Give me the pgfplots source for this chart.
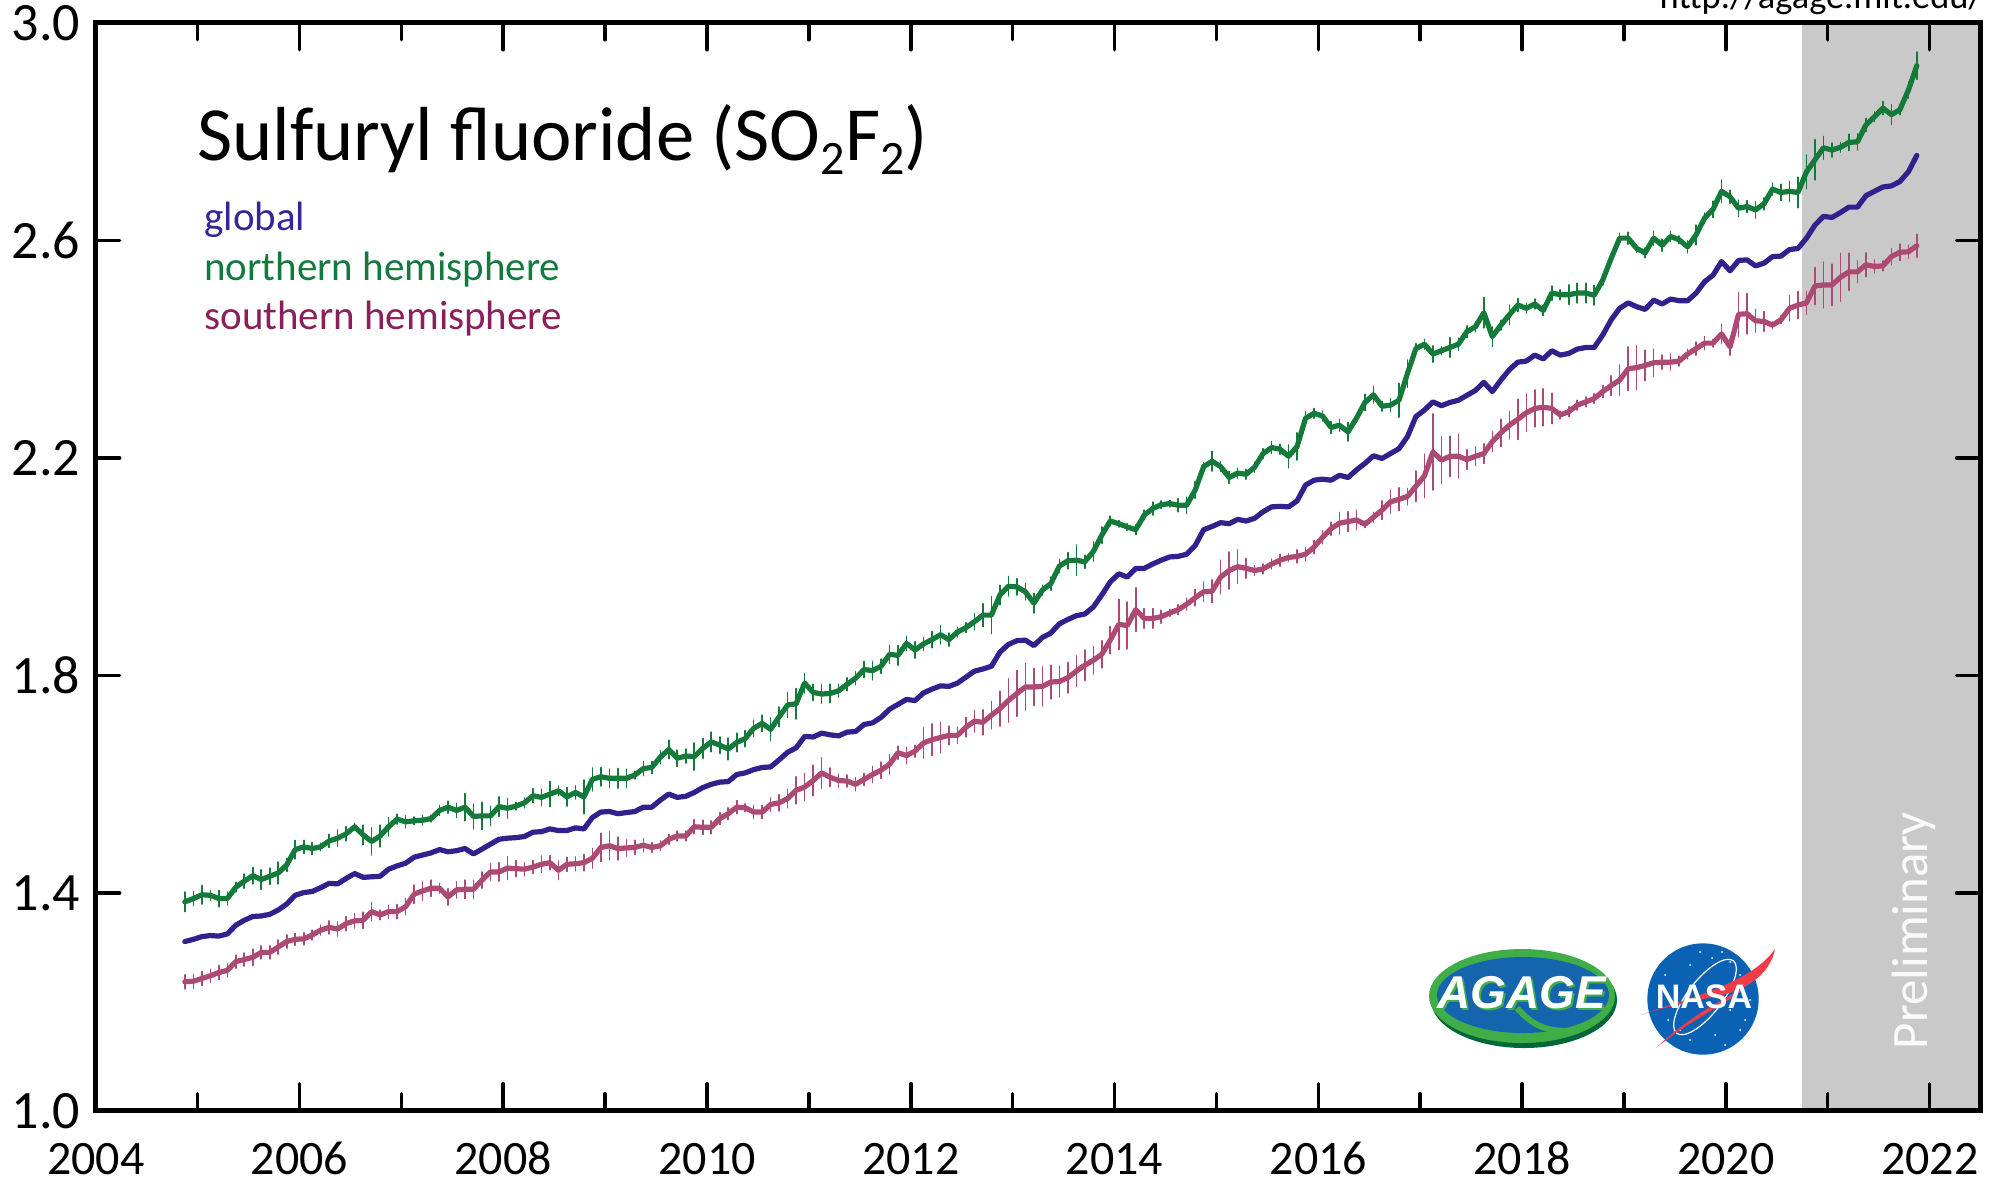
\documentclass[border=0pt]{standalone}
\usepackage{fontspec}
\setmainfont{Carlito}
\newfontfamily\logofont{Liberation Sans}
\usepackage{pgfplots}
\usepackage{pgfplotstable}
\pgfplotsset{compat=1.18}
\definecolor{cblue}{HTML}{31218C}
\definecolor{cgreen}{HTML}{137A3A}
\definecolor{cred}{HTML}{AD4A74}
\definecolor{lblue}{HTML}{33269A}
\definecolor{lgreen}{HTML}{117A3C}
\definecolor{lred}{HTML}{8C1F5A}
\definecolor{gshade}{HTML}{C9C9C9}
\definecolor{agblue}{HTML}{1464AE}
\definecolor{aggreen}{HTML}{3FAE49}
\definecolor{agdark}{HTML}{006838}
\definecolor{nasablue}{HTML}{0B62B4}
\definecolor{nasared}{HTML}{EE3D48}
\pgfplotstableread{
t g eg b r er
2004.875 1.384 .018 1.311 1.237 .013
2004.958 1.390 .013 1.315 1.238 .013
2005.042 1.397 .017 1.320 1.243 .013
2005.125 1.396 .009 1.322 1.248 .012
2005.208 1.390 .015 1.321 1.254 .013
2005.292 1.390 .012 1.325 1.258 .012
2005.375 1.411 .009 1.341 1.274 .012
2005.458 1.422 .013 1.350 1.278 .012
2005.542 1.432 .015 1.357 1.282 .015
2005.625 1.425 .018 1.358 1.291 .012
2005.708 1.431 .015 1.361 1.291 .012
2005.792 1.437 .020 1.369 1.301 .013
2005.875 1.452 .012 1.380 1.311 .012
2005.958 1.480 .017 1.396 1.315 .011
2006.042 1.485 .012 1.401 1.316 .011
2006.125 1.482 .011 1.403 1.323 .009
2006.208 1.485 .007 1.410 1.332 .009
2006.292 1.496 .012 1.418 1.337 .012
2006.375 1.501 .015 1.417 1.334 .013
2006.458 1.509 .013 1.427 1.344 .013
2006.542 1.522 .006 1.436 1.349 .013
2006.625 1.507 .018 1.429 1.350 .015
2006.708 1.495 .025 1.430 1.366 .017
2006.792 1.505 .020 1.431 1.360 .009
2006.875 1.522 .017 1.444 1.366 .012
2006.958 1.536 .009 1.450 1.366 .013
2007.042 1.531 .011 1.455 1.375 .015
2007.125 1.533 .007 1.466 1.398 .017
2007.208 1.534 .009 1.470 1.404 .017
2007.292 1.537 .006 1.474 1.409 .015
2007.375 1.552 .009 1.480 1.409 .009
2007.458 1.558 .011 1.476 1.393 .015
2007.542 1.552 .013 1.478 1.406 .015
2007.625 1.558 .025 1.482 1.407 .017
2007.708 1.541 .023 1.472 1.407 .017
2007.792 1.542 .025 1.481 1.424 .015
2007.875 1.542 .018 1.490 1.439 .015
2007.958 1.559 .018 1.499 1.439 .017
2008.042 1.556 .018 1.501 1.446 .021
2008.125 1.560 .007 1.502 1.445 .015
2008.208 1.566 .009 1.504 1.444 .012
2008.292 1.579 .013 1.512 1.448 .012
2008.375 1.576 .015 1.513 1.453 .015
2008.458 1.582 .023 1.518 1.456 .013
2008.542 1.588 .009 1.515 1.442 .017
2008.625 1.577 .017 1.515 1.453 .013
2008.708 1.585 .012 1.520 1.454 .013
2008.792 1.577 .031 1.518 1.456 .015
2008.875 1.609 .021 1.539 1.464 .018
2008.958 1.614 .017 1.549 1.484 .026
2009.042 1.611 .017 1.550 1.487 .026
2009.125 1.611 .018 1.546 1.482 .021
2009.208 1.611 .017 1.548 1.483 .015
2009.292 1.617 .007 1.550 1.484 .013
2009.375 1.629 .013 1.558 1.488 .012
2009.458 1.631 .011 1.558 1.484 .009
2009.542 1.650 .012 1.571 1.487 .009
2009.625 1.664 .017 1.582 1.499 .009
2009.708 1.648 .015 1.576 1.505 .009
2009.792 1.652 .013 1.578 1.505 .009
2009.875 1.651 .025 1.585 1.522 .013
2009.958 1.666 .018 1.594 1.521 .013
2010.042 1.678 .018 1.600 1.521 .012
2010.125 1.672 .015 1.604 1.537 .011
2010.208 1.665 .020 1.605 1.546 .011
2010.292 1.677 .017 1.618 1.558 .012
2010.375 1.684 .015 1.621 1.557 .007
2010.458 1.703 .015 1.627 1.549 .012
2010.542 1.712 .015 1.631 1.549 .012
2010.625 1.701 .021 1.632 1.563 .012
2010.708 1.724 .018 1.645 1.566 .015
2010.792 1.746 .023 1.659 1.574 .017
2010.875 1.748 .028 1.667 1.589 .025
2010.958 1.786 .018 1.688 1.595 .025
2011.042 1.769 .015 1.687 1.607 .028
2011.125 1.766 .017 1.694 1.621 .028
2011.208 1.767 .017 1.691 1.613 .017
2011.292 1.772 .012 1.689 1.607 .012
2011.375 1.784 .012 1.696 1.606 .011
2011.458 1.795 .012 1.697 1.600 .012
2011.542 1.811 .015 1.710 1.609 .011
2011.625 1.809 .017 1.713 1.618 .015
2011.708 1.817 .013 1.723 1.626 .015
2011.792 1.839 .017 1.738 1.637 .018
2011.875 1.837 .018 1.747 1.658 .012
2011.958 1.859 .013 1.756 1.653 .015
2012.042 1.847 .015 1.754 1.661 .011
2012.125 1.858 .012 1.768 1.676 .028
2012.208 1.866 .015 1.775 1.682 .029
2012.292 1.875 .017 1.781 1.686 .028
2012.375 1.866 .012 1.780 1.690 .017
2012.458 1.880 .009 1.786 1.690 .015
2012.542 1.888 .009 1.797 1.705 .018
2012.625 1.899 .015 1.808 1.716 .020
2012.708 1.911 .021 1.812 1.714 .023
2012.792 1.911 .034 1.817 1.727 .025
2012.875 1.948 .018 1.843 1.739 .032
2012.958 1.964 .018 1.857 1.754 .040
2013.042 1.963 .015 1.864 1.767 .042
2013.125 1.954 .015 1.865 1.779 .043
2013.208 1.933 .018 1.855 1.779 .034
2013.292 1.957 .009 1.870 1.780 .036
2013.375 1.969 .012 1.878 1.788 .031
2013.458 2.001 .012 1.895 1.789 .028
2013.542 2.011 .015 1.903 1.796 .028
2013.625 2.012 .028 1.910 1.808 .028
2013.708 2.009 .012 1.913 1.819 .028
2013.792 2.028 .018 1.926 1.828 .025
2013.875 2.058 .015 1.948 1.839 .025
2013.958 2.084 .009 1.972 1.865 .025
2014.042 2.079 .006 1.987 1.894 .046
2014.125 2.073 .006 1.981 1.892 .043
2014.208 2.068 .009 1.997 1.921 .040
2014.292 2.095 .009 1.997 1.905 .018
2014.375 2.107 .012 2.005 1.905 .018
2014.458 2.114 .007 2.012 1.908 .012
2014.542 2.116 .006 2.018 1.915 .006
2014.625 2.113 .012 2.019 1.921 .009
2014.708 2.113 .015 2.023 1.931 .011
2014.792 2.141 .015 2.039 1.943 .015
2014.875 2.184 .007 2.068 1.954 .018
2014.958 2.194 .018 2.074 1.955 .021
2015.042 2.184 .009 2.081 1.981 .031
2015.125 2.164 .011 2.079 1.993 .034
2015.208 2.172 .009 2.087 2.000 .031
2015.292 2.170 .009 2.084 1.997 .018
2015.375 2.183 .009 2.089 1.993 .009
2015.458 2.208 .009 2.101 1.996 .009
2015.542 2.219 .011 2.110 2.005 .009
2015.625 2.216 .009 2.111 2.012 .011
2015.708 2.203 .021 2.110 2.017 .007
2015.792 2.221 .025 2.121 2.019 .012
2015.875 2.273 .012 2.150 2.023 .012
2015.958 2.282 .009 2.159 2.036 .012
2016.042 2.277 .009 2.161 2.054 .012
2016.125 2.256 .011 2.159 2.070 .012
2016.208 2.260 .011 2.168 2.080 .020
2016.292 2.248 .017 2.164 2.083 .018
2016.375 2.273 .007 2.178 2.086 .018
2016.458 2.302 .015 2.190 2.078 .006
2016.542 2.316 .015 2.204 2.091 .009
2016.625 2.295 .009 2.199 2.104 .017
2016.708 2.297 .012 2.208 2.119 .021
2016.792 2.306 .031 2.217 2.124 .021
2016.875 2.355 .025 2.239 2.129 .015
2016.958 2.401 .009 2.276 2.148 .028
2017.042 2.409 .009 2.288 2.167 .040
2017.125 2.391 .015 2.303 2.211 .070
2017.208 2.397 .007 2.296 2.196 .043
2017.292 2.403 .018 2.302 2.203 .037
2017.375 2.409 .011 2.306 2.203 .040
2017.458 2.432 .011 2.315 2.197 .018
2017.542 2.441 .009 2.324 2.203 .017
2017.625 2.467 .028 2.339 2.208 .018
2017.708 2.423 .018 2.322 2.230 .018
2017.792 2.444 .009 2.343 2.246 .025
2017.875 2.463 .018 2.362 2.260 .025
2017.958 2.481 .012 2.376 2.271 .037
2018.042 2.475 .009 2.378 2.283 .034
2018.125 2.483 .009 2.389 2.291 .034
2018.208 2.471 .009 2.382 2.293 .034
2018.292 2.503 .013 2.397 2.291 .028
2018.375 2.500 .009 2.389 2.279 .007
2018.458 2.500 .018 2.392 2.285 .009
2018.542 2.503 .018 2.400 2.297 .009
2018.625 2.503 .018 2.403 2.303 .009
2018.708 2.499 .018 2.403 2.309 .009
2018.792 2.527 .009 2.426 2.322 .011
2018.875 2.567 .007 2.454 2.333 .018
2018.958 2.604 .009 2.475 2.343 .028
2019.042 2.604 .011 2.485 2.364 .040
2019.125 2.585 .007 2.478 2.366 .040
2019.208 2.577 .009 2.473 2.370 .028
2019.292 2.604 .013 2.490 2.375 .025
2019.375 2.591 .011 2.483 2.376 .013
2019.458 2.607 .009 2.492 2.376 .015
2019.542 2.601 .007 2.489 2.378 .009
2019.625 2.588 .011 2.489 2.391 .009
2019.708 2.610 .018 2.503 2.401 .012
2019.792 2.641 .009 2.524 2.411 .012
2019.875 2.657 .015 2.536 2.411 .007
2019.958 2.690 .021 2.561 2.428 .018
2020.042 2.680 .012 2.544 2.404 .015
2020.125 2.659 .015 2.563 2.464 .040
2020.208 2.662 .011 2.564 2.465 .037
2020.292 2.656 .015 2.553 2.452 .021
2020.375 2.667 .011 2.558 2.451 .018
2020.458 2.694 .011 2.570 2.444 .006
2020.542 2.688 .015 2.571 2.454 .007
2020.625 2.690 .018 2.583 2.475 .023
2020.708 2.688 .028 2.585 2.481 .025
2020.792 2.726 .031 2.604 2.485 .021
2020.875 2.748 .037 2.628 2.516 .034
2020.958 2.770 .021 2.644 2.518 .042
2021.042 2.766 .013 2.642 2.518 .038
2021.125 2.771 .009 2.651 2.532 .044
2021.208 2.780 .015 2.661 2.542 .034
2021.292 2.781 .015 2.661 2.542 .020
2021.375 2.812 .012 2.682 2.555 .022
2021.458 2.827 .009 2.690 2.552 .012
2021.542 2.843 .012 2.698 2.553 .009
2021.625 2.831 .018 2.700 2.570 .015
2021.708 2.840 .009 2.708 2.578 .015
2021.792 2.876 .015 2.726 2.579 .012
2021.875 2.921 .025 2.756 2.590 .021
}\data
\begin{document}
\begin{tikzpicture}
\path[use as bounding box] (0,0) rectangle (998.5pt,-590pt);
\begin{axis}[
  at={(47.85pt,-555.35pt)}, anchor=south west,
  scale only axis, width=942.4pt, height=544pt,
  xmin=2004, xmax=2022.5, ymin=1, ymax=3,
  xtick={2004,2006,...,2022}, minor xtick={2005,2007,...,2021},
  ytick={1.0,1.4,1.8,2.2,2.6,3.0},
  tick align=inside,
  major tick length=13.5pt, minor tick length=8.5pt,
  y tick style={/pgfplots/major tick length=12pt},
  tick style={black,line width=1.8pt,line cap=round},
  minor tick style={black,line width=1.8pt,line cap=round},
  axis line style={line width=2.4pt},
  axis on top,
  tick label style={/pgf/number format/assume math mode=true},
  x tick label style={font=\fontsize{24}{29}\selectfont,/pgf/number format/1000 sep={},inner sep=0pt,text height=15.2pt,text depth=0pt,yshift=-16.5pt},
  y tick label style={font=\fontsize{27}{32}\selectfont,/pgf/number format/fixed,/pgf/number format/fixed zerofill,/pgf/number format/precision=1,inner sep=0pt,xshift=-7.5pt},
  every axis plot/.append style={mark=none,line join=round,line cap=round},
]
\fill[gshade] (axis cs:2020.75,1) rectangle (axis cs:2022.5,3);
\addplot[cgreen,line width=2.6pt,error bars/.cd,y dir=both,y explicit,error mark=none,
  error bar style={cgreen,line width=0.8pt}] table[x=t,y=g,y error=eg]{\data};
\addplot[cred,line width=2.6pt,error bars/.cd,y dir=both,y explicit,error mark=none,
  error bar style={cred,line width=0.8pt}] table[x=t,y=r,y error=er]{\data};
\addplot[cblue,line width=2.6pt] table[x=t,y=b]{\data};
\end{axis}
\begin{scope}[x=0.5pt,y=-0.5pt]
% texts
\node[anchor=base west,inner sep=0pt,font=\fontsize{38.3}{47}\selectfont] at (197,160.5) {Sulfuryl fluoride (SO{\raisebox{-0.18em}{\fontsize{24}{28}\selectfont 2}}F{\raisebox{-0.18em}{\fontsize{24}{28}\selectfont 2}})};
\node[anchor=base west,inner sep=0pt,font=\fontsize{20.5}{25}\selectfont,lblue] at (204,230.5) {global};
\node[anchor=base west,inner sep=0pt,font=\fontsize{20.5}{25}\selectfont,lgreen] at (204,280.5) {northern hemisphere};
\node[anchor=base west,inner sep=0pt,font=\fontsize{20.5}{25}\selectfont,lred] at (204,329.5) {southern hemisphere};
\node[anchor=base east,inner sep=0pt,font=\fontsize{18.2}{22}\selectfont] at (1983,8) {http://agage.mit.edu/};
\node[anchor=base west,rotate=90,inner sep=0pt,font=\fontsize{25.5}{30}\selectfont,white!96!gray] at (1927,1049.5) {Preliminary};
% AGAGE logo
\fill[agdark] (1524,1000) ellipse [x radius=93,y radius=48];
\fill[aggreen] (1522,996) ellipse [x radius=93,y radius=47];
\fill[agblue] (1523,995) ellipse [x radius=86,y radius=38];
\draw[aggreen,line width=3pt] (1517,1008) .. controls (1530,1022) and (1540,1030) .. (1565,1031);
\node[anchor=base,inner sep=0pt,font=\logofont\bfseries\itshape\fontsize{23}{28}\selectfont,aggreen] at (1524,1010) {AGAGE};
\node[anchor=base,inner sep=0pt,font=\logofont\bfseries\itshape\fontsize{23}{28}\selectfont,white] at (1522,1008) {AGAGE};
% NASA logo
\fill[nasablue] (1703,999) circle [radius=55.7];
\foreach \sx/\sy in {1712/958,1722/952,1730/962,1690/965,1665/975,1740/975,1668/1020,1680/1030,1690/1040,1745/1020,1740/1030,1715/1035,1725/1045,1730/1010,1700/952,1750/1000}
  \fill[white] (\sx,\sy) circle [radius=1];
\draw[white,line width=0.6pt] (1705,997) ellipse [x radius=46,y radius=17,rotate=52];
\fill[nasared] (1641,1015) .. controls (1680,1000) and (1750,985) .. (1775,949) .. controls (1770,975) and (1745,990) .. (1722,995) .. controls (1690,1002) and (1660,1008) .. (1641,1015) -- cycle;
\fill[nasared] (1656,1048) .. controls (1685,1020) and (1720,1000) .. (1745,988) .. controls (1725,1005) and (1690,1020) .. (1656,1048) -- cycle;
\node[anchor=base,inner sep=0pt,font=\logofont\bfseries\fontsize{17}{20}\selectfont,white] at (1704,1008) {NASA};
\end{scope}
\end{tikzpicture}
\end{document}
